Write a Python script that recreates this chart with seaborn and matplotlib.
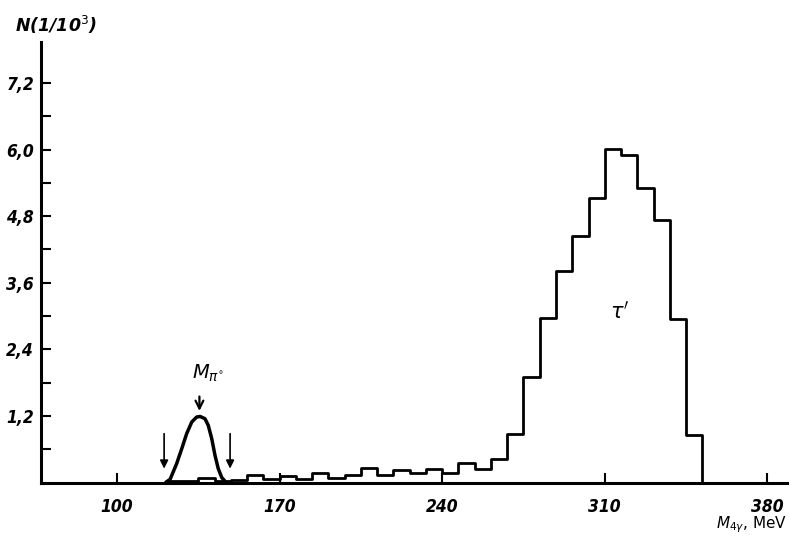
import numpy as np
import matplotlib
matplotlib.use('Agg')
import matplotlib.pyplot as plt
import seaborn as sns

sns.set_style('ticks')
plt.rcParams['font.family'] = ['DejaVu Sans']
plt.rcParams['axes.edgecolor'] = 'black'
plt.rcParams['xtick.color'] = 'black'
plt.rcParams['ytick.color'] = 'black'
plt.rcParams['text.color'] = 'black'

# histogram of the 4-gamma invariant mass, bins of 7 MeV (heights in units of 10^3)
# last bin is empty so the outline drops back to the axis
binEdges = [121 + 7 * k for k in range(35)]
binHeights = [0.02, 0.03, 0.09, 0.03, 0.04, 0.13, 0.07, 0.12, 0.07, 0.17,
              0.08, 0.14, 0.26, 0.14, 0.23, 0.17, 0.24, 0.17, 0.36, 0.24,
              0.42, 0.87, 1.91, 2.96, 3.82, 4.44, 5.12, 6.01, 5.91, 5.31,
              4.73, 2.94, 0.86, 0.0]

# pi0 peak curve
peakMass = [121.0, 122.9, 125.7, 127.9, 130.0, 132.2, 134.3, 135.8, 137.9,
            139.3, 140.8, 142.2, 143.6, 145.1, 147.0]
peakHeight = [0.0, 0.06, 0.34, 0.61, 0.88, 1.09, 1.18, 1.19, 1.15,
              1.03, 0.79, 0.49, 0.25, 0.09, 0.0]

xTicks = [100, 170, 240, 310, 380]
yTicks = [1.2, 2.4, 3.6, 4.8, 6.0, 7.2]
yTickLabels = ['1,2', '2,4', '3,6', '4,8', '6,0', '7,2']
yMinor = [0.6, 1.8, 3.0, 4.2, 5.4, 6.6]
cutArrows = [120.3, 148.7]

binCenters = [(binEdges[i] + binEdges[i + 1]) / 2 for i in range(len(binHeights))]

fig = plt.figure(figsize=(7.89, 5.40), dpi=100)
ax = fig.add_axes([41 / 789, 57.5 / 540, 748 / 789, 440.5 / 540])

sns.histplot(x=binCenters, weights=binHeights, bins=binEdges, element='step',
             fill=False, color='black', linewidth=2.0, ax=ax)
sns.lineplot(x=peakMass, y=peakHeight, color='black', linewidth=2.5, ax=ax,
             sort=False)

ax.set_xlim(67.3, 389.3)
ax.set_ylim(0, 7.94)

sns.despine(ax=ax)
ax.spines['left'].set_linewidth(2.2)
ax.spines['bottom'].set_linewidth(2.2)

tickFont = dict(family='DejaVu Sans', style='italic', weight='bold',
                stretch='condensed', size=12.5)
ax.set_xticks(xTicks)
ax.set_xticklabels([str(t) for t in xTicks], **tickFont)
ax.set_yticks(yTicks)
ax.set_yticklabels(yTickLabels, **tickFont)
ax.set_yticks(yMinor, minor=True)
ax.tick_params(axis='both', which='both', direction='in', length=7, width=1.5,
               color='black', labelcolor='black')
ax.tick_params(axis='x', pad=11)
ax.tick_params(axis='y', pad=5)
ax.set_xlabel('')
ax.set_ylabel('')

# cut arrows around the pi0 peak
for xa in cutArrows:
    ax.annotate('', xy=(xa, 0.2), xytext=(xa, 0.93),
                arrowprops=dict(arrowstyle='-|>', color='black', lw=1.2,
                                mutation_scale=12))
ax.annotate('', xy=(135.5, 1.24), xytext=(135.5, 1.6),
            arrowprops=dict(arrowstyle='->', color='black', lw=1.6,
                            mutation_scale=14))
ax.text(139.2, 1.97, r'$M_{\pi^{\circ}}$', fontsize=14, ha='center',
        va='center')
ax.text(316.5, 3.08, r"$\tau'$", fontsize=15, ha='center', va='center')

fig.text(15 / 789, 1 - 25 / 540, r'N(1/10$^3$)', fontsize=12.5,
         style='italic', weight='bold', ha='left', va='center')
fig.text(787 / 789, 1 - 525 / 540, r'$M_{4\gamma}$, MeV', fontsize=11,
         ha='right', va='center')

fig.savefig('out.png', dpi=100)
